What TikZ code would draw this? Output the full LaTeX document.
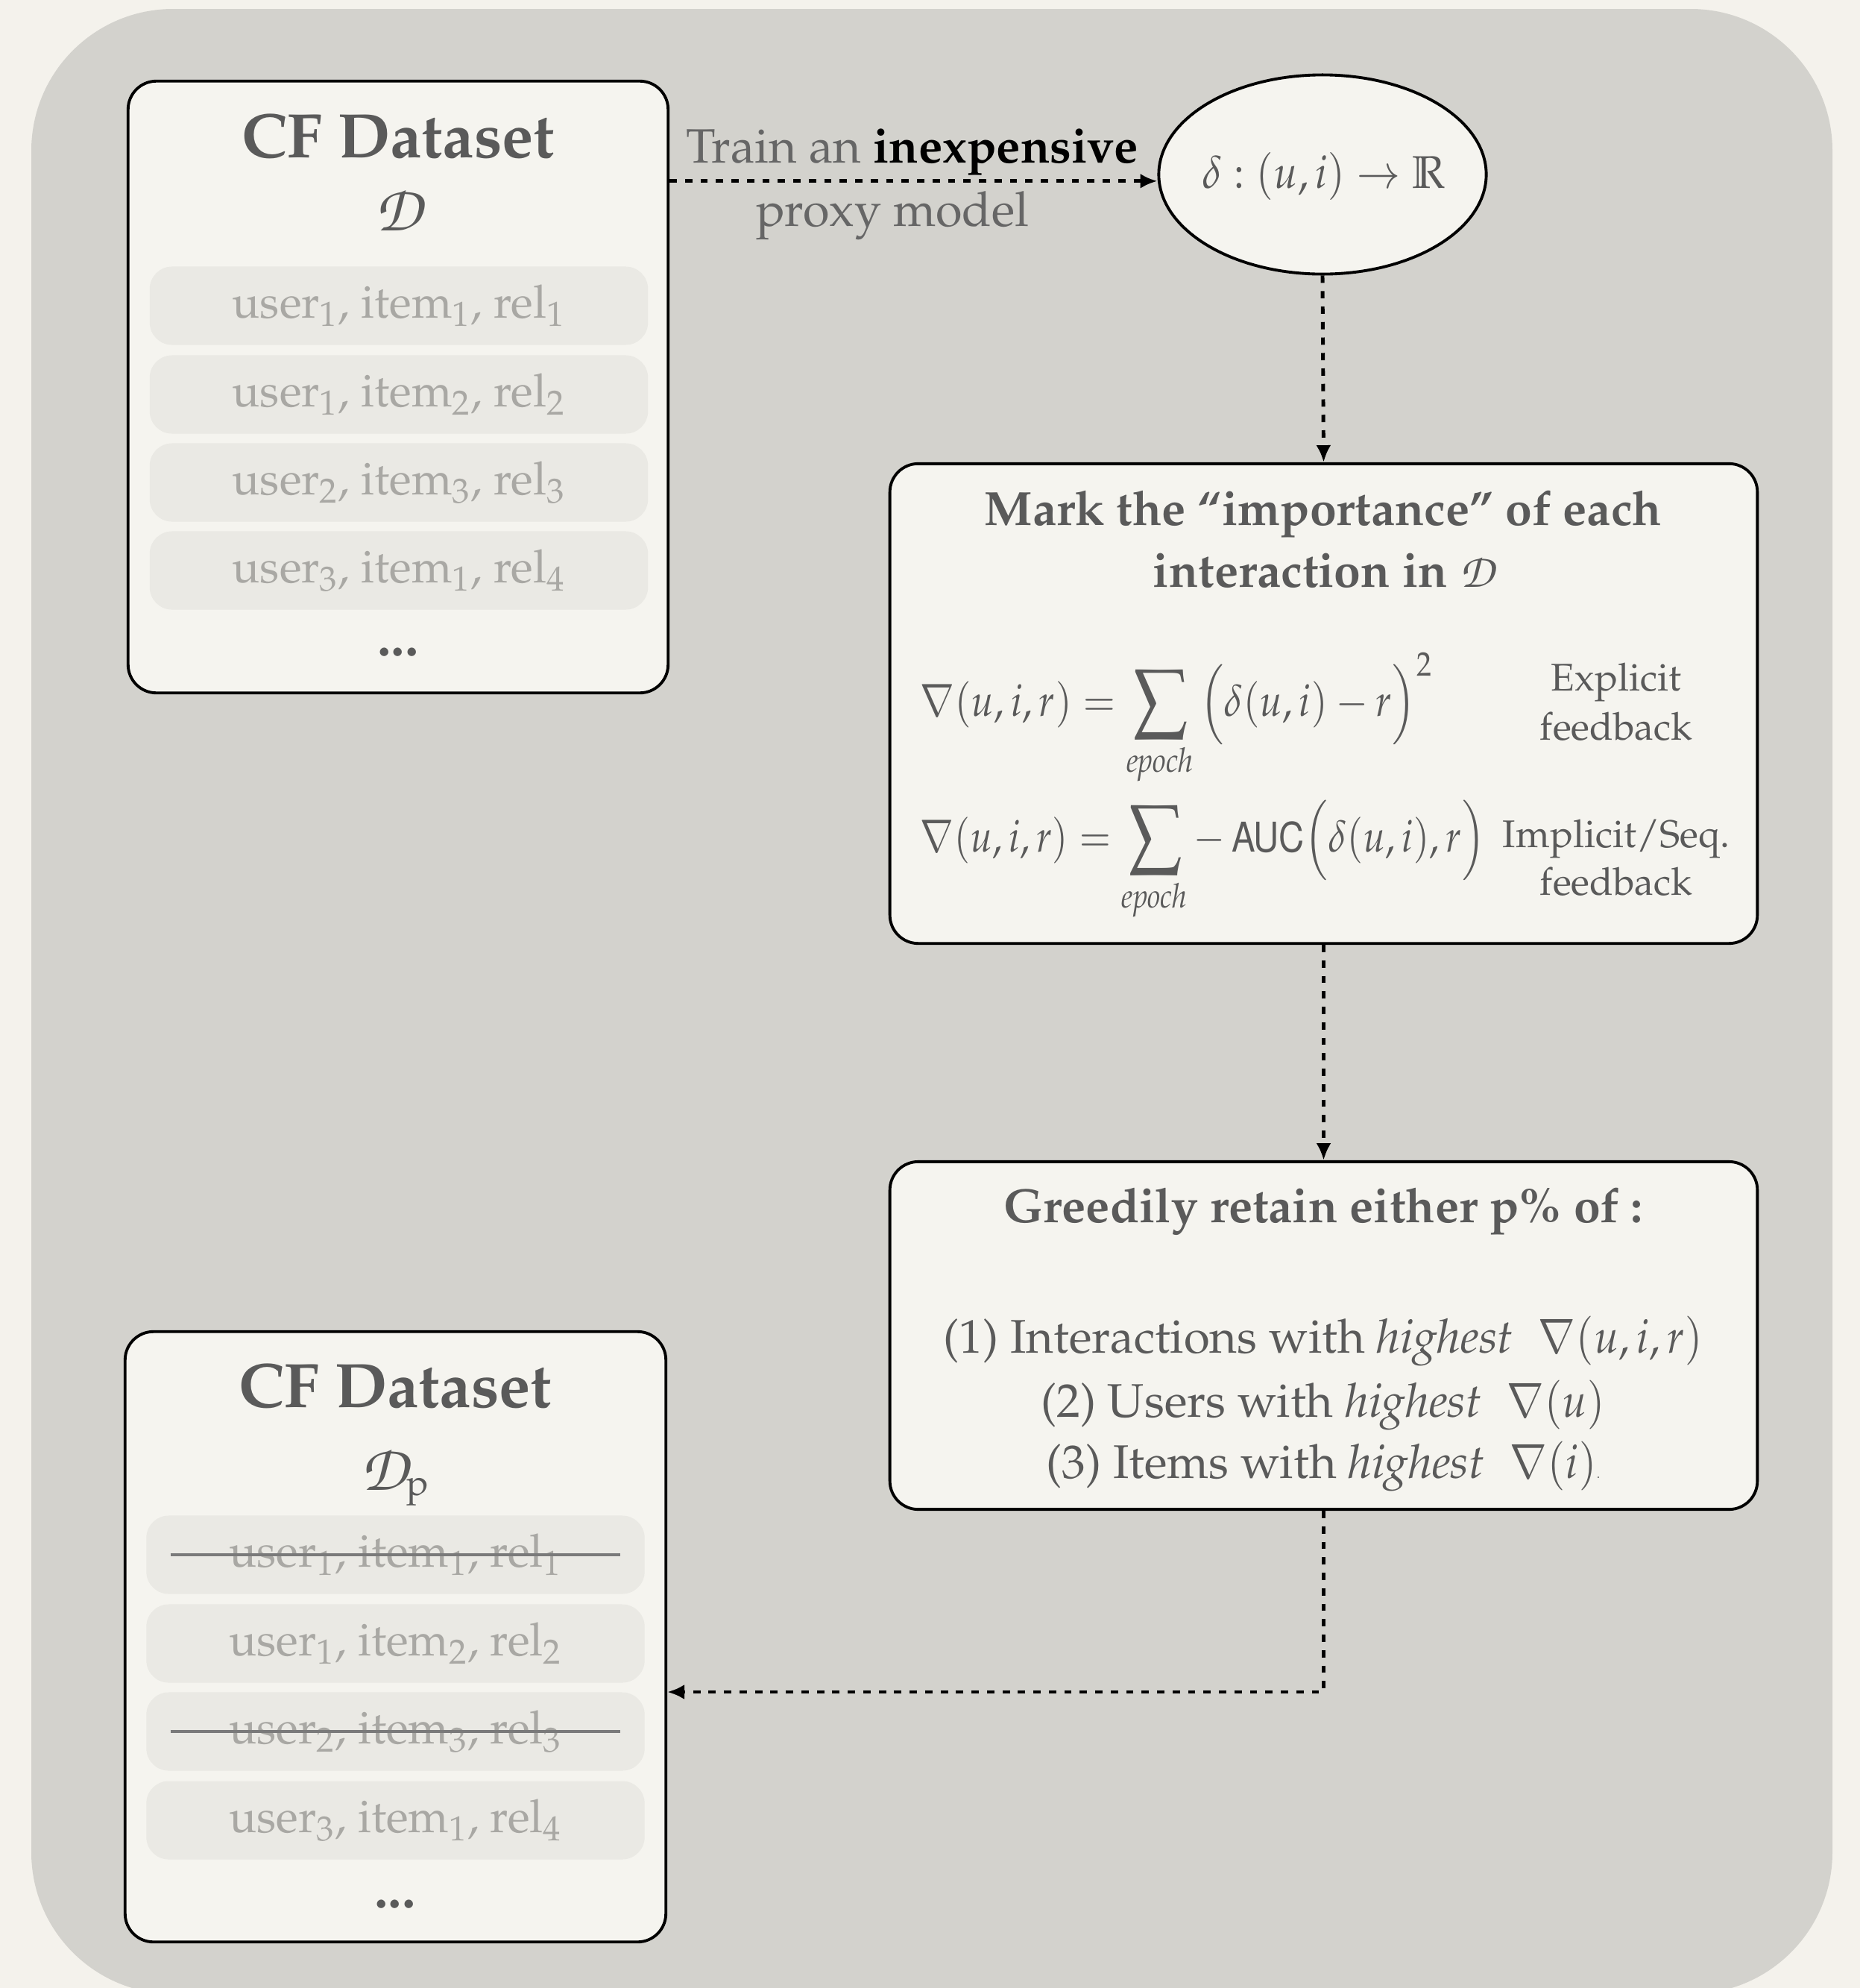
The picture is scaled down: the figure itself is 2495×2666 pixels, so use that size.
\documentclass[tikz,border=0pt]{standalone}
\usepackage[T1]{fontenc}
\usepackage{mathpazo}
\usepackage[scaled=0.92]{helvet}
\usetikzlibrary{shapes.geometric,arrows.meta,calc}
\definecolor{pagebg}{HTML}{F4F2EC}
\definecolor{panel}{HTML}{D3D2CD}
\definecolor{boxfill}{HTML}{F5F4EF}
\definecolor{rowfill}{HTML}{EAE9E4}
\definecolor{rowtext}{HTML}{A9A8A4}
\definecolor{darktext}{HTML}{5A5A5A}
\definecolor{labgray}{HTML}{666666}
\definecolor{striker}{HTML}{7A7A7A}
\newcommand\zc[1]{{\fontfamily{pzc}\fontseries{mb}\fontshape{it}\selectfont #1}}
\newcommand\fbody{\fontsize{18}{23.6}\selectfont}
\newcommand\frow{\fontsize{17.5}{22}\selectfont}
\newcommand\fside{\fontsize{14.7}{18}\selectfont}
\newcommand\ftitle{\fontsize{24}{28}\selectfont\bfseries}
\newcommand\ub[1]{\textsubscript{#1}}
\newcommand\nm[1]{\scalebox{0.9}[1]{$#1$}}
\newcommand\bigsum{\mathop{\vcenter{\hbox{\scalebox{1.25}{$\displaystyle\sum$}}}}\limits}
\tikzset{
  mybox/.style={draw=black, line width=1.1pt, fill=boxfill, rounded corners=0.38cm, inner sep=0pt},
  rowbox/.style={fill=rowfill, rounded corners=0.3cm, minimum width=6.68cm, minimum height=1.05cm, inner sep=0pt, text=rowtext, font=\frow},
  txt/.style={anchor=base, inner sep=0pt, text=darktext, font=\fbody},
  side/.style={anchor=base, inner sep=0pt, text=darktext, font=\fside},
  ttl/.style={anchor=base, inner sep=0pt, text=darktext, font=\ftitle},
  conn/.style={line width=1.4pt, dash pattern=on 2.8pt off 3.1pt, -{Latex[length=6.5pt,width=5.7pt]}},
  strike/.style={draw=striker, line width=1.4pt}
}
\begin{document}
\begin{tikzpicture}[x=0.01cm,y=-0.01cm]
\useasboundingbox (0,0) rectangle (2495,2666);
\fill[pagebg] (0,0) rectangle (2495,2666);
\fill[panel, rounded corners=1.9cm] (42,12) rectangle (2458,2674);

% ---------- box 1 ----------
\node[mybox, minimum width=7.24cm, minimum height=8.2cm] (box1) at (534,519) {};
\node[ttl] (t1) at (534,211) {CF Dataset};
\node[anchor=base, inner sep=0pt, text=darktext, font=\fontsize{25}{28}\selectfont] (d1) at (534,309) {\zc{D}};
\node[rowbox] (r11) at (535,410) {user\ub{1}, item\ub{1}, rel\ub{1}};
\node[rowbox] (r12) at (535,529) {user\ub{1}, item\ub{2}, rel\ub{2}};
\node[rowbox] (r13) at (535,647) {user\ub{2}, item\ub{3}, rel\ub{3}};
\node[rowbox] (r14) at (535,765) {user\ub{3}, item\ub{1}, rel\ub{4}};
\node[txt, font=\fontsize{21}{22}\selectfont\bfseries] (dots1) at (534,879) {...};

% ---------- ellipse ----------
\node[ellipse, draw=black, line width=1.1pt, fill=boxfill, minimum width=4.39cm, minimum height=2.67cm, inner sep=0pt] (ell) at (1774,234) {};
\node[inner sep=0pt, text=darktext, font=\fontsize{17.5}{20}\selectfont] (ellt) at (1776,236) {\nm{\delta : (u,i) \to \mathbb{R}}};

\path (box1.north east) ++(0,136) coordinate (a1);
\draw[conn] (a1) -- (a1 -| ell.west);
\node[anchor=base, inner sep=0pt, font=\fontsize{18.4}{22}\selectfont] (lab1) at (1224,218) {\textcolor{labgray}{Train an} \textbf{inexpensive}};
\node[anchor=base, inner sep=0pt, font=\fontsize{18.4}{22}\selectfont, text=labgray] (lab2) at (1197,303) {proxy model};

% ---------- box 2 ----------
\node[mybox, minimum width=11.63cm, minimum height=6.43cm] (box2) at (1775.5,943.5) {};
\node[txt, font=\fontsize{18.3}{22}\selectfont\bfseries] (b2t1) at (1775,704) {Mark the ``importance'' of each};
\node[txt, font=\fontsize{18.3}{22}\selectfont\bfseries] (b2t2) at (1775,787) {interaction in \zc{D}};
\node[anchor=base west, inner sep=0pt, text=darktext, font=\fontsize{17}{20}\selectfont] (f1) at (1233,960)
  {\scalebox{0.88}[1]{$\displaystyle \nabla(u,i,r) = \bigsum_{\mathit{epoch}} \Big(\delta(u,i) - r\Big)^2$}};
\node[anchor=base west, inner sep=0pt, text=darktext, font=\fontsize{17}{20}\selectfont] (f2) at (1233,1142)
  {\scalebox{0.86}[1]{$\displaystyle \nabla(u,i,r) = \bigsum_{\mathit{epoch}} -\,\textsf{AUC}\Big(\delta(u,i), r\Big)$}};
\node[side] (e1) at (2168,926) {Explicit};
\node[side] (e2) at (2168,992) {feedback};
\node[side] (i1) at (2168,1136) {Implicit/Seq.};
\node[side] (i2) at (2168,1200) {feedback};

\draw[conn] (ell.south) -- (box2.north);

% ---------- box 3 ----------
\node[mybox, minimum width=11.63cm, minimum height=4.66cm] (box3) at (1775.5,1791) {};
\node[txt, font=\fontsize{18.3}{22}\selectfont\bfseries] (b3t) at (1775,1639) {Greedily retain either p\% of :};
\node[txt] (l1) at (1775,1814) {(1) Interactions with \textit{highest} \;\nm{\nabla(u,i,r)}};
\node[txt] (l2) at (1775,1900) {(2) Users with \textit{highest} \;\nm{\nabla(u)}};
\node[txt] (l3) at (1775,1982) {(3) Items with \textit{highest} \;\nm{\nabla(i)}{\tiny .}};

\draw[conn] (box2.south) -- (box3.north);

% ---------- box 4 ----------
\node[mybox, minimum width=7.25cm, minimum height=8.18cm] (box4) at (530.5,2195) {};
\node[ttl] (t4) at (530,1887) {CF Dataset};
\node[anchor=base, inner sep=0pt, text=darktext, font=\fontsize{25}{28}\selectfont] (d4) at (530,1998) {\zc{D}{\fontsize{14}{14}\selectfont\raisebox{-2pt}{p}}};
\node[rowbox] (r41) at (530.5,2085) {user\ub{1}, item\ub{1}, rel\ub{1}};
\node[rowbox] (r42) at (530.5,2204) {user\ub{1}, item\ub{2}, rel\ub{2}};
\node[rowbox] (r43) at (530.5,2322) {user\ub{2}, item\ub{3}, rel\ub{3}};
\node[rowbox] (r44) at (530.5,2441) {user\ub{3}, item\ub{1}, rel\ub{4}};
\node[txt, font=\fontsize{21}{22}\selectfont\bfseries] (dots4) at (530,2558) {...};
\draw[strike] ($(r41.west)+(33,0)$) -- ($(r41.east)+(-33,0)$);
\draw[strike] ($(r43.west)+(33,0)$) -- ($(r43.east)+(-33,0)$);

\coordinate (bend) at (1775.5,2269);
\draw[conn] (box3.south) -- (bend) -- (bend -| box4.east);
\end{tikzpicture}
\end{document}
